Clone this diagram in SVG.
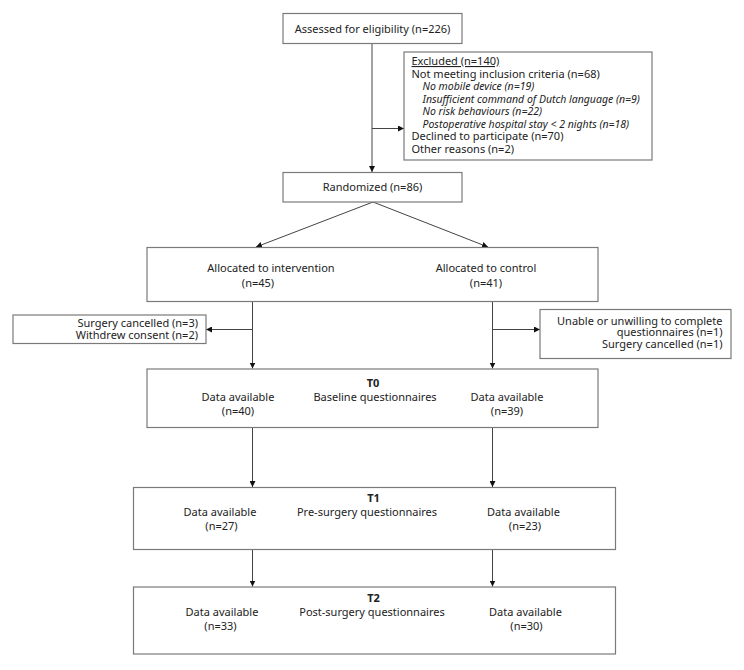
<svg xmlns="http://www.w3.org/2000/svg" width="744" height="670" viewBox="0 0 744 670">
<defs>
<marker id="ah" viewBox="0 0 10 10" refX="10" refY="5" markerWidth="6" markerHeight="6" orient="auto" markerUnits="userSpaceOnUse">
<path d="M0,0 L10,5 L0,10 z" fill="#111"/>
</marker>
<style>
.box{fill:#fff;stroke:#7a7a7a;stroke-width:1.2}
.t{font-family:"Noto Sans","Open Sans",sans-serif;font-size:11px;fill:#222}
.c{text-anchor:middle}
.r{text-anchor:end}
.b{font-weight:bold}
.i{font-style:italic;font-size:10.5px}
.ln{fill:none;stroke:#444;stroke-width:1}
</style>
</defs>
<rect width="744" height="670" fill="#fff"/>
<g id="connectors">
<line class="ln" x1="372" y1="43" x2="372" y2="172" marker-end="url(#ah)"/>
<line class="ln" x1="372" y1="128.5" x2="404" y2="128.5" marker-end="url(#ah)"/>
<line class="ln" x1="373" y1="202" x2="256" y2="247" marker-end="url(#ah)"/>
<line class="ln" x1="373" y1="202" x2="488" y2="247" marker-end="url(#ah)"/>
<line class="ln" x1="252.5" y1="301" x2="252.5" y2="368.5" marker-end="url(#ah)"/>
<line class="ln" x1="252.5" y1="329.5" x2="206" y2="329.5" marker-end="url(#ah)"/>
<line class="ln" x1="492.5" y1="301" x2="492.5" y2="368.5" marker-end="url(#ah)"/>
<line class="ln" x1="492.5" y1="329.5" x2="540" y2="329.5" marker-end="url(#ah)"/>
<line class="ln" x1="252.5" y1="427.5" x2="252.5" y2="487" marker-end="url(#ah)"/>
<line class="ln" x1="492.5" y1="427.5" x2="492.5" y2="487" marker-end="url(#ah)"/>
<line class="ln" x1="252.5" y1="549.5" x2="252.5" y2="586.5" marker-end="url(#ah)"/>
<line class="ln" x1="492.5" y1="549.5" x2="492.5" y2="586.5" marker-end="url(#ah)"/>
</g>
<g id="assessed">
<rect class="box" x="283" y="13.5" width="179" height="30"/>
<text class="t c" x="372.5" y="32.5">Assessed for eligibility (n=226)</text>
</g>
<g id="excluded">
<rect class="box" x="404" y="52" width="248" height="108"/>
<text class="t" x="411.5" y="65" text-decoration="underline">Excluded  (n=140)</text>
<text class="t" x="411.5" y="77.5">Not meeting inclusion criteria (n=68)</text>
<text class="t i" x="422.5" y="90">No mobile device (n=19)</text>
<text class="t i" x="422.5" y="102.5">Insufficient command of Dutch language (n=9)</text>
<text class="t i" x="422.5" y="115">No risk behaviours (n=22)</text>
<text class="t i" x="422.5" y="127.5">Postoperative hospital stay &lt; 2 nights (n=18)</text>
<text class="t" x="411.5" y="140">Declined to participate (n=70)</text>
<text class="t" x="411.5" y="152.5">Other reasons (n=2)</text>
</g>
<g id="randomized">
<rect class="box" x="283" y="172.5" width="179" height="29.5"/>
<text class="t c" x="372.5" y="191">Randomized (n=86)</text>
</g>
<g id="allocation">
<rect class="box" x="147" y="247.5" width="451" height="54"/>
<text class="t c" x="271" y="272">Allocated to intervention</text>
<text class="t c" x="258" y="286.5">(n=45)</text>
<text class="t c" x="486" y="272">Allocated to control</text>
<text class="t c" x="486" y="286.5">(n=41)</text>
</g>
<g id="lost-intervention">
<rect class="box" x="13" y="315" width="193" height="28.5"/>
<text class="t r" x="198" y="327">Surgery cancelled (n=3)</text>
<text class="t r" x="198" y="339">Withdrew consent (n=2)</text>
</g>
<g id="lost-control">
<rect class="box" x="540" y="309.5" width="191" height="49"/>
<text class="t r" x="722.5" y="324.5">Unable or unwilling to complete</text>
<text class="t r" x="722.5" y="336">questionnaires (n=1)</text>
<text class="t r" x="722.5" y="347.5">Surgery cancelled (n=1)</text>
</g>
<g id="t0">
<rect class="box" x="147" y="369" width="451" height="58.5"/>
<text class="t c b" x="373" y="387">T0</text>
<text class="t c" x="238" y="401">Data available</text>
<text class="t c" x="238" y="414.5">(n=40)</text>
<text class="t c" x="375" y="401">Baseline questionnaires</text>
<text class="t c" x="507" y="401">Data available</text>
<text class="t c" x="507" y="414.5">(n=39)</text>
</g>
<g id="t1">
<rect class="box" x="133.5" y="487.5" width="482" height="62"/>
<text class="t c b" x="373.5" y="502">T1</text>
<text class="t c" x="220" y="516">Data available</text>
<text class="t c" x="221.5" y="530">(n=27)</text>
<text class="t c" x="367" y="516">Pre-surgery questionnaires</text>
<text class="t c" x="523.5" y="516">Data available</text>
<text class="t c" x="525" y="530">(n=23)</text>
</g>
<g id="t2">
<rect class="box" x="133.5" y="587" width="482" height="67"/>
<text class="t c b" x="373.5" y="601.5">T2</text>
<text class="t c" x="222" y="616">Data available</text>
<text class="t c" x="220.5" y="630">(n=33)</text>
<text class="t c" x="372" y="616">Post-surgery questionnaires</text>
<text class="t c" x="525.5" y="616">Data available</text>
<text class="t c" x="526.5" y="630">(n=30)</text>
</g>
</svg>
